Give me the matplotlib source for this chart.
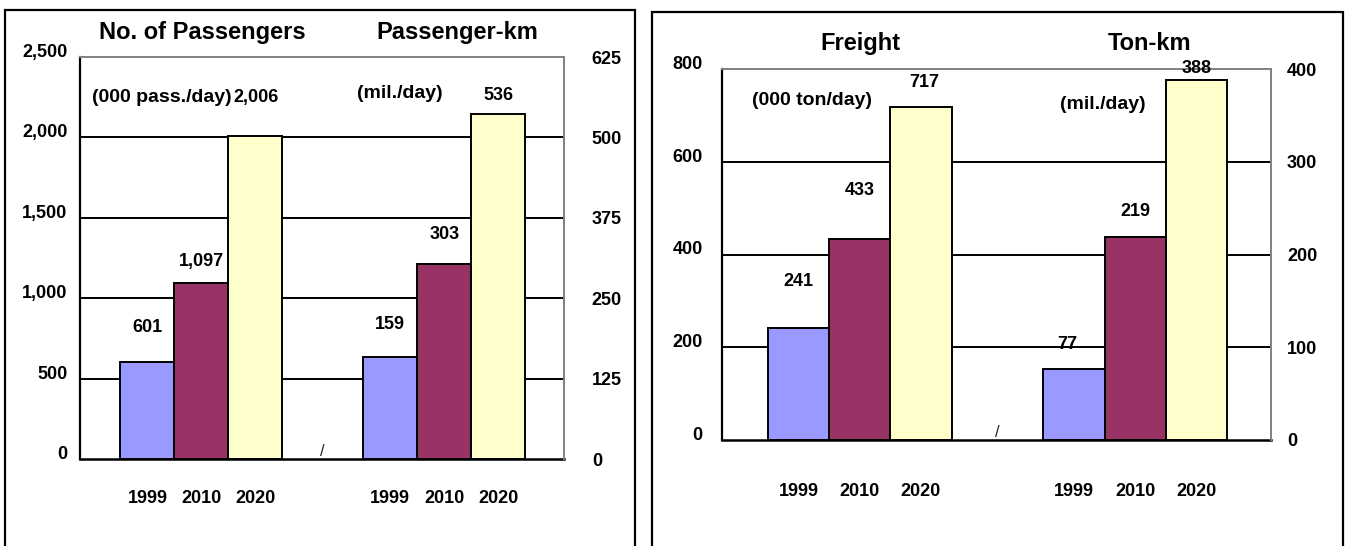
import matplotlib
matplotlib.use("Agg")
import matplotlib.pyplot as plt
from matplotlib.patches import Rectangle

plt.rcParams['font.family'] = ['Liberation Sans', 'DejaVu Sans']
plt.rcParams['font.weight'] = 'bold'

# --- data ---
years = ["1999", "2010", "2020"]
colors = ["#9999FF", "#993366", "#FFFFCC"]

passengers = [601, 1097, 2006]    # 000 pass./day
passenger_km = [159, 303, 536]    # mil./day
freight = [241, 433, 717]         # 000 ton/day
ton_km = [77, 219, 388]           # mil./day

pass_ticks = [0, 500, 1000, 1500, 2000, 2500]
pkm_ticks = [0, 125, 250, 375, 500, 625]
freight_ticks = [0, 200, 400, 600, 800]
tkm_ticks = [0, 100, 200, 300, 400]

W, H = 1349, 546
fig = plt.figure(figsize=(W / 100, H / 100), dpi=100)

XA = [0, 1, 2]
XB = [4.5, 5.5, 6.5]


def draw_panel(rect, left_vals, right_vals, left_ticks, right_ticks,
               titles, title_y, units, unit_pos, offs_a, offs_b,
               lpad, rpad, xpad):
    ax = fig.add_axes(rect)
    ax2 = ax.twinx()

    bars_a = ax.bar(XA, left_vals, width=1.0, color=colors,
                    edgecolor="black", linewidth=1.4, zorder=3)
    bars_b = ax2.bar(XB, right_vals, width=1.0, color=colors,
                     edgecolor="black", linewidth=1.4, zorder=3)

    ax.set_xlim(-1.25, 7.72)
    ax.set_ylim(left_ticks[0], left_ticks[-1])
    ax2.set_ylim(right_ticks[0], right_ticks[-1])

    for v in left_ticks[1:-1]:
        ax.axhline(v, color="black", lw=1.4, zorder=1)

    ax.set_yticks(left_ticks)
    ax.set_yticklabels([f"{v:,}" for v in left_ticks], fontsize=13)
    ax2.set_yticks(right_ticks)
    ax2.set_yticklabels([f"{v:,}" for v in right_ticks], fontsize=13)
    ax.set_xticks(XA + XB)
    ax.set_xticklabels(years * 2, fontsize=13)
    ax.tick_params(axis="y", length=0, pad=lpad)
    ax2.tick_params(axis="y", length=0, pad=rpad)
    ax.tick_params(axis="x", length=0, pad=xpad)
    for t in ax.get_yticklabels():
        t.set_va("baseline")

    for a in (ax, ax2):
        for side in ("bottom", "left", "top", "right"):
            a.spines[side].set_visible(False)
    ax.spines["left"].set_visible(True)
    ax.spines["left"].set_linewidth(1.6)
    ax.spines["bottom"].set_visible(True)
    ax.spines["bottom"].set_linewidth(1.8)
    ax.spines["top"].set_visible(True)
    ax.spines["top"].set_color("#808080")
    ax.spines["top"].set_linewidth(1.4)
    ax2.spines["right"].set_visible(True)
    ax2.spines["right"].set_color("#808080")
    ax2.spines["right"].set_linewidth(1.4)

    for bar, val, (dx, dy) in zip(bars_a, left_vals, offs_a):
        ax.annotate(f"{val:,}", (bar.get_x() + bar.get_width() / 2, val),
                    xytext=(dx, dy), textcoords="offset pixels",
                    ha="center", va="center", fontsize=13)
    for bar, val, (dx, dy) in zip(bars_b, right_vals, offs_b):
        ax2.annotate(f"{val:,}", (bar.get_x() + bar.get_width() / 2, val),
                     xytext=(dx, dy), textcoords="offset pixels",
                     ha="center", va="center", fontsize=13)

    for (tx, txt) in zip([0.252, 0.779], titles):
        ax.text(tx, title_y, txt, transform=ax.transAxes,
                ha="center", va="center", fontsize=17)
    for (ux, uy), txt in zip(unit_pos, units):
        ax.text(ux, uy, txt, transform=ax.transAxes,
                ha="center", va="center", fontsize=14)

    # small axis-break mark between the two groups
    ax.text(3.25, 0, "/", ha="center", va="bottom", fontsize=12,
            color="#222222", fontweight="normal")
    return ax, ax2


draw_panel([80 / W, 1 - 459 / H, 484 / W, 402 / H],
           passengers, passenger_km, pass_ticks, pkm_ticks,
           ["No. of Passengers", "Passenger-km"], 1.06,
           ["(000 pass./day)", "(mil./day)"], [(0.169, 0.90), (0.661, 0.91)],
           [(0, 35), (0, 21), (1, 39)], [(0, 32), (0, 30), (0, 19)],
           lpad=9, rpad=20, xpad=22)

draw_panel([722 / W, 1 - 440 / H, 549 / W, 371 / H],
           freight, ton_km, freight_ticks, tkm_ticks,
           ["Freight", "Ton-km"], 1.07,
           ["(000 ton/day)", "(mil./day)"], [(0.164, 0.916), (0.694, 0.903)],
           [(0, 47), (0, 49), (3, 25)], [(-7, 24), (0, 25), (0, 12)],
           lpad=14, rpad=11.5, xpad=31)

# panel frames
fig.add_artist(Rectangle((5 / W, -0.05), 630 / W, 1.05 - 10 / H,
                         transform=fig.transFigure, fill=False,
                         edgecolor="black", linewidth=1.6))
fig.add_artist(Rectangle((652 / W, -0.05), 691 / W, 1.05 - 12 / H,
                         transform=fig.transFigure, fill=False,
                         edgecolor="black", linewidth=1.6))

fig.savefig("out.png", dpi=100)
